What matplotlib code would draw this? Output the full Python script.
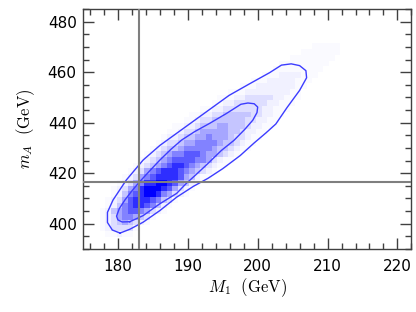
import matplotlib
matplotlib.use('Agg')
import matplotlib.pyplot as plt
import numpy as np
from matplotlib.colors import LinearSegmentedColormap
from matplotlib.ticker import MultipleLocator

plt.rcParams['mathtext.fontset'] = 'cm'

# 2D histogram (M_1 along x, m_A along y), one string per y bin from the bottom.
# Each digit is a shade level, the first digit sits in column HIST_START[j].
HIST_START = [1, 0, 0, 0, 0, 1, 1, 2, 2, 3, 4, 5, 6, 7, 8, 9, 10, 11,
              12, 13, 15, 16, 18, 20, 21, 23, 25, 27, 29, 31, 32, 34, 36, 38]
HIST_ROWS = [
    "11211",
    "1233331",
    "123454321",
    "1235665431",
    "124567765321",
    "124678876421",
    "1235788876431",
    "12467899865321",
    "123568999875321",
    "123568899875421",
    "1235678888754211",
    "1235678887654321",
    "12345678876543211",
    "12345677776653211",
    "12345667776554321",
    "123445666665443211",
    "123345566665443211",
    "122344556555433211",
    "112334555554432211",
    "112234445544432211",
    "11233444444332211",
    "11223344444332211",
    "1122333333322111",
    "112233333322111",
    "111223333322111",
    "1112222222211",
    "111222222211",
    "11122222111",
    "1112222111",
    "111111111",
    "111111111",
    "11111111",
    "1111111",
    "11111",
]
# relative bin content for each shade level
LEVELS = [0.0, 0.02, 0.055, 0.13, 0.23, 0.35, 0.49, 0.65, 0.82, 1.0]

# bin grid
X0, DX, NX = 177.4, 0.8, 45
Y0, DY = 394.875, 2.25

# 95% contour
OUTER_X = [180.3, 181.7, 183.6, 186.0, 188.4, 190.8, 192.9, 195.0, 197.5, 199.5,
           201.2, 202.6, 204.2, 206.0, 207.0, 206.9, 206.0, 204.8, 203.4, 201.7,
           198.9, 195.9, 193.1, 190.5, 188.0, 186.0, 183.6, 181.2, 179.3, 178.5,
           178.5, 179.2, 180.3]
OUTER_Y = [396.3, 397.8, 400.6, 405.2, 410.5, 414.8, 418.0, 421.8, 427.0, 432.0,
           436.0, 439.5, 446.0, 452.8, 457.8, 460.6, 462.6, 463.3, 462.8, 459.8,
           455.5, 450.8, 445.2, 440.0, 435.0, 431.0, 425.2, 417.3, 409.4, 404.5,
           400.5, 397.5, 396.3]
# 68% contour
INNER_X = [181.7, 183.6, 186.0, 188.4, 189.8, 191.2, 192.9, 194.8, 196.6, 198.2,
           199.3, 199.9, 200.0, 199.5, 198.6, 197.6, 195.5, 193.1, 191.0, 189.1,
           187.6, 186.0, 184.5, 183.1, 182.0, 181.0, 180.2, 179.8, 180.0, 180.6,
           181.7]
INNER_Y = [400.8, 403.2, 407.9, 412.0, 416.0, 419.5, 423.9, 429.0, 433.0, 437.5,
           441.0, 444.0, 446.2, 447.5, 447.8, 447.3, 443.6, 439.7, 436.5, 433.1,
           429.5, 425.2, 420.8, 416.6, 413.0, 409.4, 406.0, 403.0, 401.5, 400.7,
           400.8]

# best fit point
BEST_M1 = 183.0
BEST_MA = 416.7

hist = np.zeros((len(HIST_ROWS), NX))
for j, (start, row) in enumerate(zip(HIST_START, HIST_ROWS)):
    for k, ch in enumerate(row):
        hist[j, start + k] = LEVELS[int(ch)]

x_edges = X0 + DX * np.arange(NX + 1)
y_edges = Y0 + DY * np.arange(len(HIST_ROWS) + 1)

fig = plt.figure(figsize=(4.16, 3.12), dpi=100)
ax = fig.add_axes([0.1995, 0.202, 0.7895, 0.769])

cmap = LinearSegmentedColormap.from_list('white_blue', ['#ffffff', '#0000ff'])
ax.pcolormesh(x_edges, y_edges, hist, cmap=cmap, vmin=0, vmax=1, zorder=1)

ax.plot(OUTER_X, OUTER_Y, color='#3c3cff', lw=1.0, zorder=2)
ax.plot(INNER_X, INNER_Y, color='#3c3cff', lw=1.0, zorder=2)

ax.axvline(BEST_M1, color='#7f7f7f', lw=1.5, zorder=3)
ax.axhline(BEST_MA, color='#7f7f7f', lw=1.5, zorder=3)

ax.set_xlim(175, 222)
ax.set_ylim(390, 485)
ax.xaxis.set_major_locator(MultipleLocator(10))
ax.xaxis.set_minor_locator(MultipleLocator(2))
ax.yaxis.set_major_locator(MultipleLocator(20))
ax.yaxis.set_minor_locator(MultipleLocator(5))

ax.tick_params(which='both', direction='in', top=True, right=True,
               color='#404040', width=1.0, labelsize=11)
ax.tick_params(which='major', length=8)
ax.tick_params(which='minor', length=4)
ax.tick_params(axis='x', pad=7)
ax.tick_params(axis='y', pad=4.5)
for sp in ax.spines.values():
    sp.set_color('#404040')
    sp.set_linewidth(1.0)

ax.set_xlabel(r'$M_1\ \ (\mathrm{GeV})$', fontsize=12, labelpad=2)
ax.set_ylabel(r'$m_A\ \ (\mathrm{GeV})$', fontsize=12, labelpad=8)

fig.savefig('out.png', dpi=100)
